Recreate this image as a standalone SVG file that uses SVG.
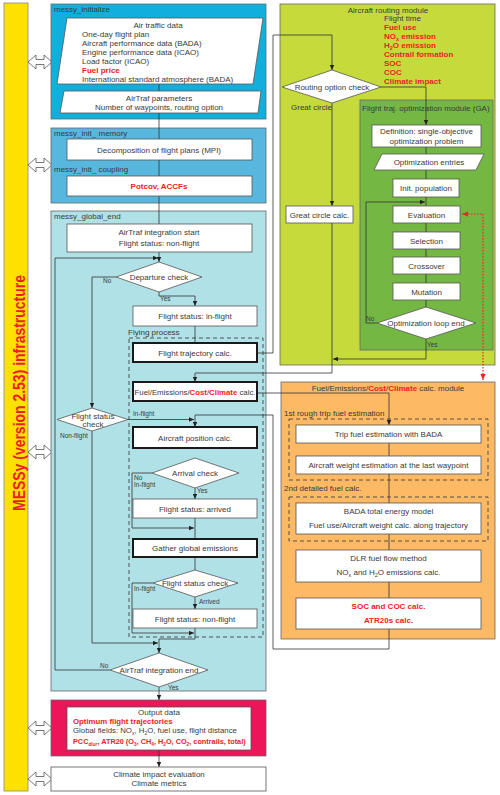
<svg xmlns="http://www.w3.org/2000/svg" width="500" height="795" viewBox="0 0 500 795">
<defs>
<style>
text{font-family:"Liberation Sans",Arial,sans-serif;font-size:8px;fill:#3a3a3a}
.c{text-anchor:middle}
.r{fill:#ee1c25;font-weight:bold}
.s{font-size:6.5px}
.box{fill:#fff;stroke:#555;stroke-width:0.8}
.tk{fill:#fff;stroke:#1a1a1a;stroke-width:2}
.pn{stroke:#666;stroke-width:0.8}
.cn{fill:none;stroke:#333;stroke-width:0.8}
.a{marker-end:url(#ah)}
.dash{fill:none;stroke:#444;stroke-width:0.9;stroke-dasharray:4 3}
.dbl{fill:#fff;stroke:#555;stroke-width:0.8}
</style>
<marker id="ah" viewBox="0 0 8 8" refX="8" refY="4" markerWidth="5" markerHeight="5" markerUnits="userSpaceOnUse" orient="auto"><path d="M0,0.5 L8,4 L0,7.5 z" fill="#222"/></marker>
<marker id="ahr" viewBox="0 0 8 8" refX="8" refY="4" markerWidth="6" markerHeight="6" markerUnits="userSpaceOnUse" orient="auto-start-reverse"><path d="M0,0.5 L8,4 L0,7.5 z" fill="#e8262a"/></marker>
<path id="dblarrow" d="M0,0 L8,-7 L8,-2.5 L16,-2.5 L16,-7 L24,0 L16,7 L16,2.5 L8,2.5 L8,7 Z"/>
</defs>
<rect width="500" height="795" fill="#fff"/>

<!-- panels -->
<g id="messy-infrastructure">
<rect x="4" y="3" width="24" height="788" fill="#ffe100" stroke="#888" stroke-width="0.8"/>
<text transform="translate(25,393) rotate(-90)" class="c" style="font-size:17px;font-weight:bold;fill:#ee1c25" textLength="236" lengthAdjust="spacingAndGlyphs">MESSy (version 2.53) infrastructure</text>
<use href="#dblarrow" x="28" y="62" class="dbl"/>
<use href="#dblarrow" x="28" y="165" class="dbl"/>
<use href="#dblarrow" x="28" y="452" class="dbl"/>
<use href="#dblarrow" x="28" y="728" class="dbl"/>
<use href="#dblarrow" x="28" y="779" class="dbl"/>
</g>
<g id="messy_initialize">
<rect x="51" y="4" width="215" height="115" fill="#12afdc" class="pn"/>
<text x="54" y="12">messy_initialize</text>
</g>
<g id="messy_init_memory">
<rect x="51" y="128" width="215" height="75" fill="#58b7df" class="pn"/>
<text x="54" y="136">messy_init_ memory</text>
<text x="54" y="172">messy_init_ coupling</text>
</g>
<g id="messy_global_end">
<rect x="51" y="211" width="215" height="480" fill="#b0e1e6" class="pn"/>
<text x="54" y="219">messy_global_end</text>
</g>
<g id="flying-process">
<rect x="129" y="338" width="134" height="299" class="dash"/>
<text x="128" y="335">Flying process</text>
</g>
<g id="routing-module">
<rect x="280" y="4" width="215" height="361" fill="#c6da3b" class="pn"/>
<text x="388" y="13" class="c">Aircraft routing module</text>
<text x="384" y="21">Flight time</text>
<text x="384" y="30" class="r">Fuel use</text>
<text x="384" y="39" class="r">NO<tspan font-size="5.5" dy="1.5">x</tspan><tspan dy="-1.5"> emission</tspan></text>
<text x="384" y="48" class="r">H<tspan font-size="5.5" dy="1.5">2</tspan><tspan dy="-1.5">O emission</tspan></text>
<text x="384" y="57" class="r">Contrail formation</text>
<text x="384" y="66" class="r">SOC</text>
<text x="384" y="75" class="r">COC</text>
<text x="384" y="84" class="r">Climate impact</text>
<text x="291" y="110">Great circle</text>
</g>
<g id="ga-module">
<rect x="360" y="100" width="133" height="250" fill="#74b843" class="pn"/>
<text x="362" y="111">Flight traj. optimization module (GA)</text>
</g>
<g id="fuel-module">
<rect x="281" y="382" width="214" height="257" fill="#fdb964" class="pn"/>
<text x="388" y="391" class="c">Fuel/Emissions/<tspan class="r">Cost</tspan>/<tspan class="r">Climate</tspan> calc. module</text>
<text x="284" y="416">1st rough trip fuel estimation</text>
<rect x="289" y="419" width="199" height="61" class="dash"/>
<text x="284" y="491">2nd detailed fuel calc.</text>
<rect x="289" y="497" width="199" height="44" class="dash"/>
</g>
<g id="output-panel">
<rect x="51" y="700" width="215" height="56" fill="#ec1559" class="pn"/>
</g>

<!-- connectors -->
<g id="connectors">
<path class="cn" d="M159,84 V224"/>
<path class="cn a" d="M159,252 V262"/>
<path class="cn a" d="M110,670 H55 V258 H158"/>
<path class="cn a" d="M116,277 H92 V408"/>
<path class="cn a" d="M159,292 V296 H195 V306"/>
<path class="cn" d="M195,326 V343"/>
<path class="cn a" d="M257,353 H273 V35 H332 V70"/>
<path class="cn a" d="M332,103 V206"/>
<path class="cn a" d="M381,87 H426 V125"/>
<path class="cn" d="M426,147 V307"/>
<path class="cn a" d="M377,323 H366 V202 H425"/>
<path class="cn a" d="M426,339 V359 H333"/>
<path class="cn a" d="M332,223 V373 H195 V382"/>
<path class="cn a" d="M257,393 H389 V425"/>
<path class="cn" d="M389,443 V598"/>
<path class="cn a" d="M389,629 V649 H273 V415 H195 V427"/>
<path class="cn a" d="M128,419.5 H194"/>
<path class="cn a" d="M92,431 V643 H158"/>
<path class="cn a" d="M152,473 H132 V528 H194"/>
<path class="cn a" d="M195,488 V499"/>
<path class="cn" d="M195,518 V539"/>
<path class="cn" d="M195,557 V570"/>
<path class="cn a" d="M153,583 H132 V633 H194"/>
<path class="cn a" d="M195,597 V609"/>
<path class="cn a" d="M195,628 V639 H159 V653"/>
<path class="cn a" d="M159,687 V700"/>
<path class="cn a" d="M159,750 V767"/>
<path d="M462,214 H483 V380" fill="none" stroke="#e8262a" stroke-width="1.2" stroke-dasharray="1.5 1.5" marker-start="url(#ahr)" marker-end="url(#ahr)"/>
<text x="103" y="283" class="s">No</text>
<text x="160" y="301" class="s">Yes</text>
<text x="133" y="416" class="s">In-flight</text>
<text x="60" y="438" class="s">Non-flight</text>
<text x="134" y="480" class="s">No</text>
<text x="134" y="487" class="s">In-flight</text>
<text x="197" y="493" class="s">Yes</text>
<text x="134" y="591" class="s">In-flight</text>
<text x="199" y="604" class="s">Arrived</text>
<text x="100" y="668" class="s">No</text>
<text x="168" y="690" class="s">Yes</text>
<text x="366" y="321" class="s">No</text>
<text x="427" y="347" class="s">Yes</text>
</g>

<!-- nodes -->
<g id="air-traffic-data">
<polygon points="67,18 263,18 253,84 57,84" class="box"/>
<text x="158" y="28" class="c">Air traffic data</text>
<text x="82" y="37">One-day flight plan</text>
<text x="82" y="46">Aircraft performance data (BADA)</text>
<text x="82" y="55">Engine performance data (ICAO)</text>
<text x="82" y="64">Load factor (ICAO)</text>
<text x="82" y="73" class="r">Fuel price</text>
<text x="82" y="82">International standard atmosphere (BADA)</text>
</g>
<g id="airtraf-parameters">
<polygon points="64,91 261,91 258,113 60,113" class="box"/>
<text x="159" y="101" class="c">AirTraf parameters</text>
<text x="159" y="110" class="c">Number of waypoints, routing option</text>
</g>
<g id="decomposition">
<rect x="67" y="139" width="185" height="21" class="box"/>
<text x="159" y="152.5" class="c">Decomposition of flight plans (MPI)</text>
</g>
<g id="potcov">
<rect x="67" y="176" width="185" height="20" class="box"/>
<text x="159" y="189" class="c r">Potcov, ACCFs</text>
</g>
<g id="integration-start">
<rect x="67" y="224" width="185" height="28" class="box"/>
<text x="159" y="235" class="c">AirTraf integration start</text>
<text x="159" y="246" class="c">Flight status: non-flight</text>
</g>
<g id="departure-check">
<polygon points="159,262 202,277 159,292 116,277" class="box"/>
<text x="159" y="280" class="c">Departure check</text>
</g>
<g id="status-inflight">
<rect x="133" y="306" width="124" height="20" class="box"/>
<text x="195" y="319" class="c">Flight status: in-flight</text>
</g>
<g id="trajectory-calc">
<rect x="133" y="343" width="124" height="19" class="tk"/>
<text x="195" y="355.5" class="c">Flight trajectory calc.</text>
</g>
<g id="fuel-calc">
<rect x="133" y="382" width="124" height="19" class="tk"/>
<text x="195" y="394.5" class="c" style="font-size:7.8px">Fuel/Emissions/<tspan class="r">Cost</tspan>/<tspan class="r">Climate</tspan> calc.</text>
</g>
<g id="flight-status-check-1">
<polygon points="92,408 128,419.5 92,431 57,419.5" class="box"/>
<text x="93" y="419" class="c">Flight status</text>
<text x="93" y="426.5" class="c">check</text>
</g>
<g id="position-calc">
<rect x="133" y="427" width="124" height="21" class="tk"/>
<text x="195" y="440.5" class="c">Aircraft position calc.</text>
</g>
<g id="arrival-check">
<polygon points="195,458 239,473 195,488 152,473" class="box"/>
<text x="195" y="476" class="c">Arrival check</text>
</g>
<g id="status-arrived">
<rect x="133" y="499" width="124" height="19" class="box"/>
<text x="195" y="511.5" class="c">Flight status: arrived</text>
</g>
<g id="gather-emissions">
<rect x="133" y="539" width="124" height="18" class="tk"/>
<text x="195" y="551" class="c">Gather global emissions</text>
</g>
<g id="flight-status-check-2">
<polygon points="195,570 238,583 195,597 153,583" class="box"/>
<text x="195" y="586" class="c">Flight status check</text>
</g>
<g id="status-nonflight">
<rect x="133" y="609" width="124" height="19" class="box"/>
<text x="195" y="621.5" class="c">Flight status: non-flight</text>
</g>
<g id="integration-end">
<polygon points="159,653 208,670 159,687 110,670" class="box"/>
<text x="159" y="673" class="c">AirTraf integration end</text>
</g>
<g id="output-data">
<rect x="67" y="707" width="184" height="43" class="box"/>
<text x="159" y="715" class="c">Output data</text>
<text x="73" y="723.5" class="r" style="font-size:7.8px">Optimum flight trajectories</text>
<text x="73" y="733" style="font-size:7.8px">Global fields: NO<tspan font-size="5" dy="1.5">x</tspan><tspan dy="-1.5">, H</tspan><tspan font-size="5" dy="1.5">2</tspan><tspan dy="-1.5">O, fuel use, flight distance</tspan></text>
<text x="73" y="744" class="r" style="font-size:7.3px">PCC<tspan font-size="4.8" font-style="italic" dy="1.5">diur</tspan><tspan dy="-1.5">, ATR20 (O</tspan><tspan font-size="4.8" dy="1.5">3</tspan><tspan dy="-1.5">, CH</tspan><tspan font-size="4.8" dy="1.5">4</tspan><tspan dy="-1.5">, H</tspan><tspan font-size="4.8" dy="1.5">2</tspan><tspan dy="-1.5">O, CO</tspan><tspan font-size="4.8" dy="1.5">2</tspan><tspan dy="-1.5">, contrails, total)</tspan></text>
</g>
<g id="climate-evaluation">
<rect x="51" y="767" width="215" height="24" class="box"/>
<text x="159" y="777" class="c">Climate impact evaluation</text>
<text x="159" y="786" class="c">Climate metrics</text>
</g>
<g id="routing-option-check">
<polygon points="332,70 381,87 332,103 282,87" class="box"/>
<text x="332" y="90" class="c">Routing option check</text>
</g>
<g id="great-circle-calc">
<rect x="286" y="206" width="67" height="17" class="box"/>
<text x="319.5" y="217.5" class="c">Great circle calc.</text>
</g>
<g id="definition">
<rect x="372" y="125" width="109" height="22" class="box"/>
<text x="426.5" y="134" class="c">Definition: single-objective</text>
<text x="426.5" y="144" class="c">optimization problem</text>
</g>
<g id="optimization-entries">
<polygon points="382,154 484,154 476,170 374,170" class="box"/>
<text x="429" y="165" class="c">Optimization entries</text>
</g>
<g id="init-population">
<rect x="393" y="179" width="66" height="18" class="box"/>
<text x="426" y="191" class="c">Init. population</text>
</g>
<g id="evaluation">
<rect x="393" y="206" width="67" height="17" class="box"/>
<text x="426.5" y="217.5" class="c">Evaluation</text>
</g>
<g id="selection">
<rect x="393" y="232" width="67" height="17" class="box"/>
<text x="426.5" y="243.5" class="c">Selection</text>
</g>
<g id="crossover">
<rect x="393" y="257" width="67" height="17" class="box"/>
<text x="426.5" y="268.5" class="c">Crossover</text>
</g>
<g id="mutation">
<rect x="393" y="283" width="67" height="17" class="box"/>
<text x="426.5" y="294.5" class="c">Mutation</text>
</g>
<g id="optimization-loop-end">
<polygon points="426,307 476,323 426,339 377,323" class="box"/>
<text x="426" y="326" class="c">Optimization loop end</text>
</g>
<g id="trip-fuel">
<rect x="296" y="425" width="185" height="18" class="box"/>
<text x="388.5" y="437" class="c">Trip fuel estimation with BADA</text>
</g>
<g id="aircraft-weight">
<rect x="296" y="456" width="185" height="18" class="box"/>
<text x="388.5" y="468" class="c">Aircraft weight estimation at the last waypoint</text>
</g>
<g id="bada-model">
<rect x="296" y="503" width="185" height="31" class="box"/>
<text x="388.5" y="514" class="c">BADA total energy model</text>
<text x="388.5" y="527.5" class="c">Fuel use/Aircraft weight calc. along trajectory</text>
</g>
<g id="dlr-fuel-flow">
<rect x="296" y="550" width="185" height="32" class="box"/>
<text x="388.5" y="561" class="c">DLR fuel flow method</text>
<text x="388.5" y="575" class="c">NO<tspan font-size="5.5" dy="1.5">x</tspan><tspan dy="-1.5"> and H</tspan><tspan font-size="5.5" dy="1.5">2</tspan><tspan dy="-1.5">O emissions calc.</tspan></text>
</g>
<g id="soc-coc">
<rect x="296" y="598" width="185" height="31" class="box"/>
<text x="388.5" y="609" class="c r">SOC and COC calc.</text>
<text x="388.5" y="623" class="c r">ATR20s calc.</text>
</g>
</svg>
